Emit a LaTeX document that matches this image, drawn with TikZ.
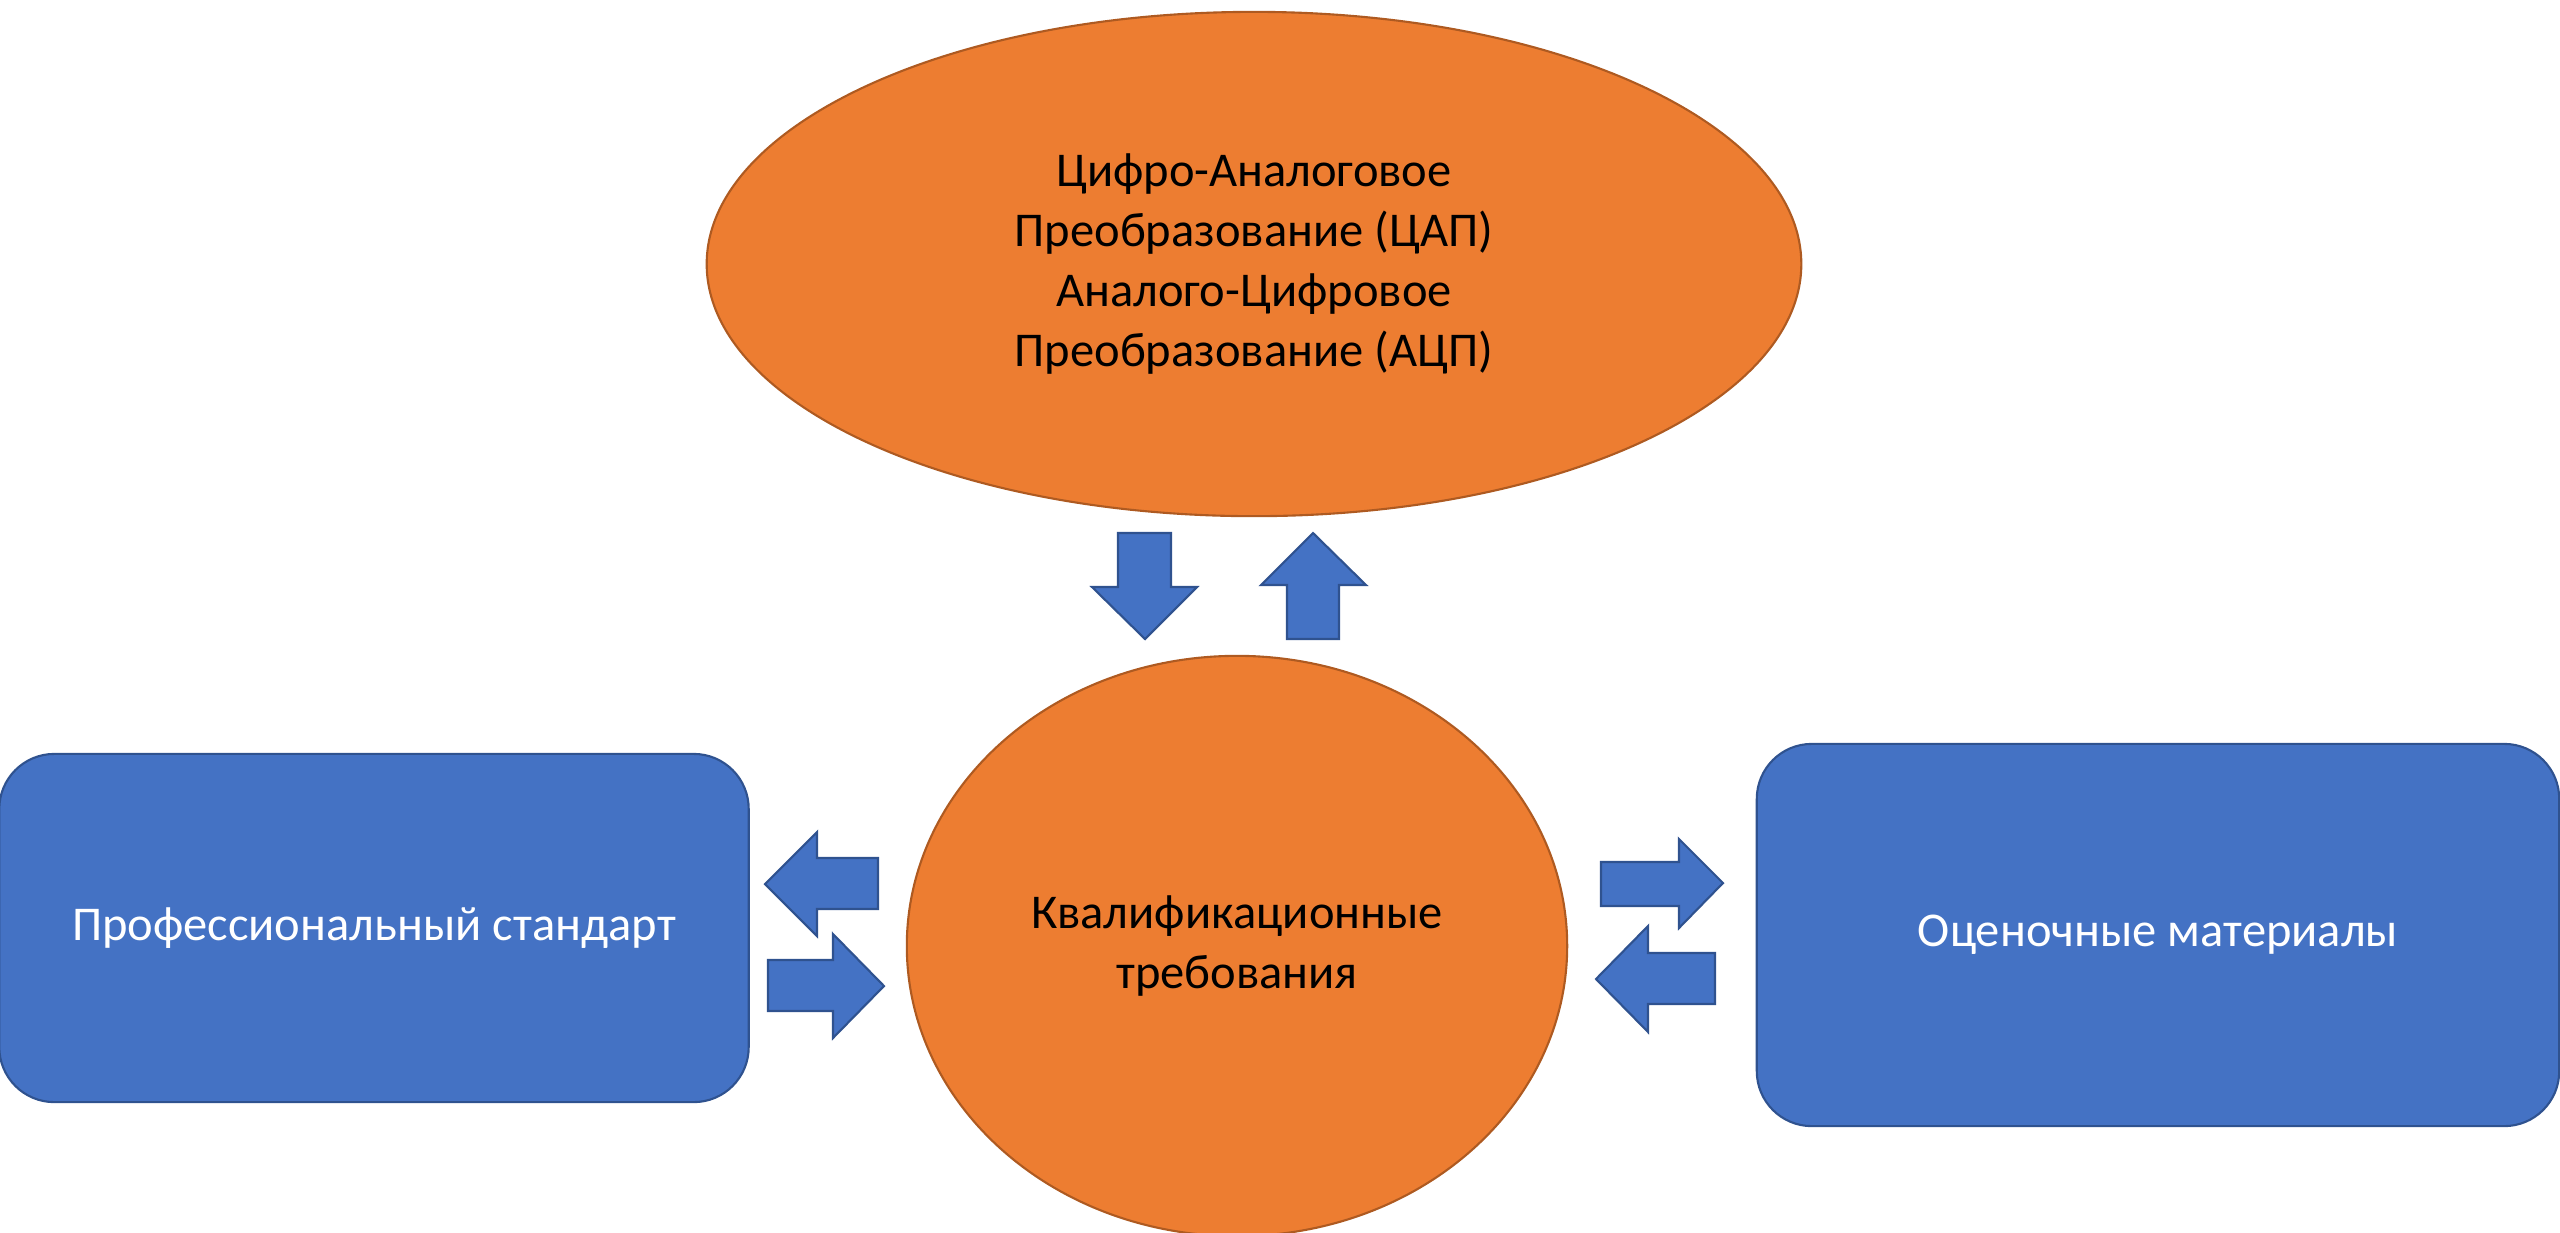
\documentclass[tikz,border=0pt]{standalone}
\usepackage{fontspec}
\setmainfont{Carlito}
\usepackage{tikz}
\usetikzlibrary{shapes.geometric, positioning}
\definecolor{accorange}{HTML}{ED7D31}
\definecolor{orangeline}{HTML}{AE5A21}
\definecolor{accblue}{HTML}{4472C4}
\definecolor{blueline}{HTML}{2F528F}
\tikzset{every node/.style={font=\fontsize{13.8}{17.1}\selectfont, align=center},
	oval/.style={ellipse, draw=orangeline, fill=accorange, line width=0.6pt, inner sep=0pt},
	roundbox/.style={rectangle, rounded corners=0.55cm, draw=blueline, fill=accblue, text=white, line width=0.6pt},
	blockarrow/.style={draw=blueline, fill=accblue, line width=0.6pt, line join=miter}}

\begin{document}
\begin{tikzpicture}[x=0.01cm, y=-0.01cm]
	\useasboundingbox (0,0) rectangle (2560,1232);
	\node[oval, minimum width=10.94cm, minimum height=5.04cm] at (1254,264) (DAC) {Цифро-Аналоговое\\Преобразование (ЦАП)\\Аналого-Цифровое\\Преобразование (АЦП)};
	\node[oval, minimum width=6.6cm, minimum height=5.8cm] at (1237,946) (Req) {Квалификационные\\требования};
	\node[roundbox, minimum width=7.49cm, minimum height=3.48cm] at (374,928) (Std) {Профессиональный стандарт};
	\node[roundbox, minimum width=8.02cm, minimum height=3.82cm] at (2158,935) (Eval) {Оценочные материалы};
	% arrows between top and centre
	\draw[blockarrow] (1118,533) -- (1171,533) -- (1171,587) -- (1197,587) -- (1145,639) -- (1092,587) -- (1118,587) -- cycle;
	\draw[blockarrow] (1313,533) -- (1366,585) -- (1339,585) -- (1339,639) -- (1287,639) -- (1287,585) -- (1261,585) -- cycle;
	% arrows on the left
	\draw[blockarrow] (765,884) -- (817,832) -- (817,858) -- (878,858) -- (878,909) -- (817,909) -- (817,936) -- cycle;
	\draw[blockarrow] (768,960) -- (833,960) -- (833,934) -- (884,986) -- (833,1038) -- (833,1011) -- (768,1011) -- cycle;
	% arrows on the right
	\draw[blockarrow] (1601,862) -- (1679,862) -- (1679,839) -- (1723,883) -- (1679,928) -- (1679,906) -- (1601,906) -- cycle;
	\draw[blockarrow] (1596,979) -- (1648,926) -- (1648,953) -- (1715,953) -- (1715,1004) -- (1648,1004) -- (1648,1032) -- cycle;
\end{tikzpicture}
\end{document}
